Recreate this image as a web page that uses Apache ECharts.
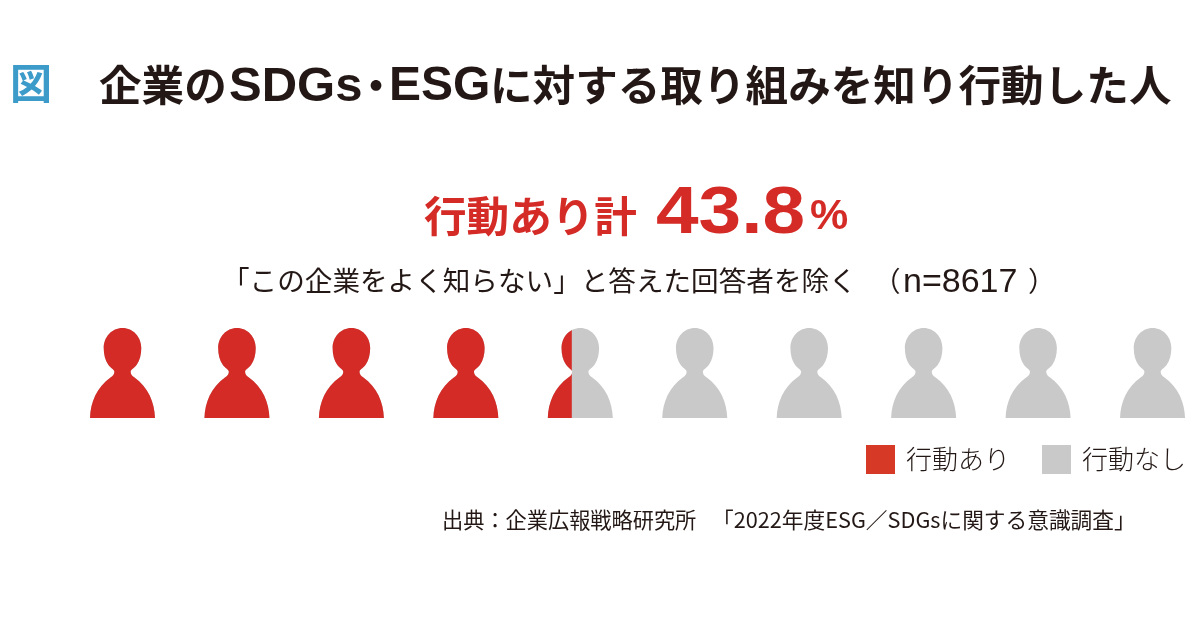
<!DOCTYPE html>
<html><head><meta charset="utf-8">
<style>html,body{margin:0;padding:0;background:#fff}#c{width:1200px;height:630px}</style>
<script src="https://cdn.jsdelivr.net/npm/echarts@6/dist/echarts.min.js"></script></head>
<body><div id="c"></div>
<script>
const categories = ['回答者'];
const seriesNames = ['行動あり', '行動なし'];
const actionValues = [43.8];
const totalValues = [100];
const iconCount = [10];
const figureLabel = '図';
const titleParts = ['企業の', 'SDGs', '・', 'ESG', 'に対する取り組みを知り行動した人'];
const headlineLabel = '行動あり計';
const headlineValue = '43.8';
const headlineUnit = '%';
const subtitle = '「この企業をよく知らない」と答えた回答者を除く';
const sampleParts = ['（', 'n=8617', '）'];
const sourceParts = ['出典：企業広報戦略研究所', '「2022年度ESG／SDGsに関する意識調査」'];

const CJK = '"Noto Sans CJK JP"';
const LATIN = '"Liberation Sans"';
const RED = '#d42b26', GRAY = '#c9c9c9', INK = '#231815';
const person = 'path://M0.5 89.5 C1 74 7 59 21 49 C23 47.5 24.5 46 24.5 43.5 C24.5 41.5 21 40 18.5 36.5 C15.5 32.5 14 26.5 14 20 C14 9 22 0 32.5 0 C43 0 51 9 51 20 C51 26.5 49.5 32.5 46.5 36.5 C44 40 40.5 41.5 40.5 43.5 C40.5 46 42 47.5 44 49 C58 59 64 74 64.5 89.5 Z';

const chart = echarts.init(document.getElementById('c'), null, {renderer:'canvas'});
chart.setOption({
  animation:false,
  backgroundColor:'#fff',
  grid:{left:90,top:328,width:1100,height:90},
  xAxis:{type:'value',min:0,max:100,show:false},
  yAxis:{type:'category',data:categories,show:false},
  legend:{
    left:861,top:440,itemWidth:29,itemHeight:29,itemGap:32,
    textStyle:{fontFamily:CJK,fontSize:26,fontWeight:300,color:INK,padding:[0,0,0,6]},
    data:[
      {name:seriesNames[0],icon:'rect',itemStyle:{color:'#d63a27'}},
      {name:seriesNames[1],icon:'rect',itemStyle:{color:GRAY}}
    ]
  },
  series:[
    {name:seriesNames[1],type:'pictorialBar',data:totalValues,symbol:person,symbolSize:[65,90],
     symbolRepeat:iconCount[0],symbolBoundingData:99.55,itemStyle:{color:GRAY},z:2},
    {name:seriesNames[0],type:'pictorialBar',data:actionValues,symbol:person,symbolSize:[65,90],
     symbolRepeat:iconCount[0],symbolBoundingData:99.55,symbolClip:true,itemStyle:{color:RED},z:3}
  ],
  graphic:[
    {type:'text',left:10,top:62,style:{text:figureLabel,font:'700 42px '+CJK,fill:'#3d9bca'}},
    {type:'text',left:99,top:64,style:{text:titleParts[0],font:'700 42.6px '+CJK,fill:INK}},
    {type:'text',left:229,top:63,style:{text:titleParts[1],font:'700 49px '+LATIN,fill:INK}},
    {type:'text',left:355,top:64,style:{text:titleParts[2],font:'700 42px '+CJK,fill:INK}},
    {type:'text',left:389,top:63,style:{text:titleParts[3],font:'700 48px '+LATIN,fill:INK}},
    {type:'text',left:490,top:64,style:{text:titleParts[4],font:'700 42.6px '+CJK,fill:INK}},
    {type:'text',left:424,top:195,style:{text:headlineLabel,font:'700 42.6px '+CJK,fill:RED}},
    {type:'text',x:656,y:182,scaleX:1.16,style:{text:headlineValue,font:'700 66px '+LATIN,fill:RED}},
    {type:'text',left:810,top:196,style:{text:headlineUnit,font:'700 43px '+LATIN,fill:RED}},
    {type:'text',left:222,top:267,style:{text:subtitle,font:'400 27.6px '+CJK,fill:INK}},
    {type:'text',left:873,top:267,style:{text:sampleParts[0],font:'400 27.6px '+CJK,fill:INK}},
    {type:'text',left:903,top:266,style:{text:sampleParts[1],font:'400 34px '+LATIN,fill:INK}},
    {type:'text',left:1028,top:267,style:{text:sampleParts[2],font:'400 27.6px '+CJK,fill:INK}},
    {type:'text',left:442,top:509,style:{text:sourceParts[0],font:'400 21.2px '+CJK,fill:INK}},
    {type:'text',left:712,top:509,style:{text:sourceParts[1],font:'400 21.7px '+CJK,fill:INK}}
  ]
});
</script></body></html>
